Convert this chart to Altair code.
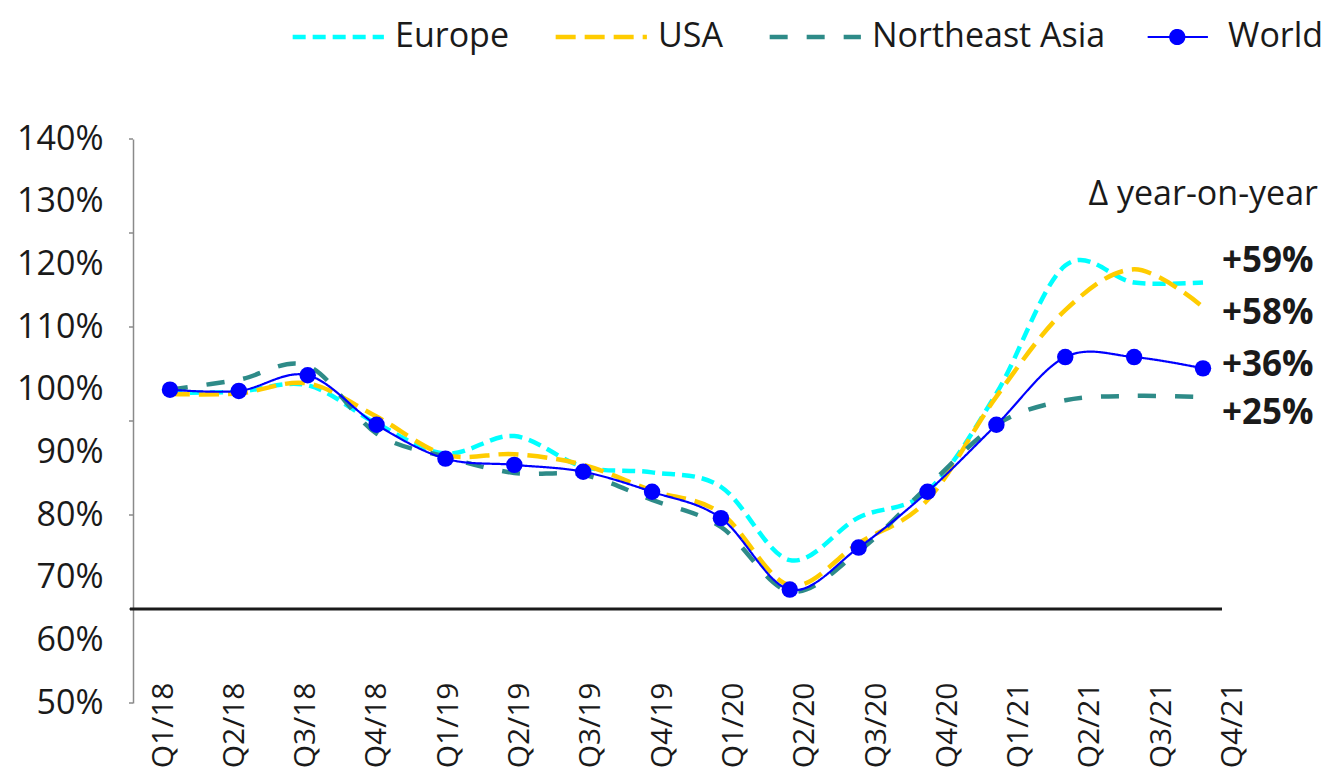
import altair as alt
import pandas as pd

quarters = ["Q1/18", "Q2/18", "Q3/18", "Q4/18", "Q1/19", "Q2/19", "Q3/19", "Q4/19",
            "Q1/20", "Q2/20", "Q3/20", "Q4/20", "Q1/21", "Q2/21", "Q3/21", "Q4/21"]
series_names = ["Europe", "USA", "Northeast Asia", "World"]

europe = [99.5, 99.7, 100.7, 94.6, 89.8, 92.6, 87.7, 86.8, 84.5, 72.8, 79.6, 83.8, 99.4, 119.8, 117.1, 117.1]
usa = [99.3, 99.4, 101.0, 95.7, 89.6, 89.7, 88.0, 83.9, 80.3, 68.8, 75.5, 82.4, 98.9, 112.7, 119.2, 113.2]
ne_asia = [100.0, 101.6, 103.8, 93.0, 89.3, 86.7, 86.4, 82.4, 78.1, 67.8, 74.2, 84.5, 94.4, 98.3, 99.0, 98.8]
world = [100.0, 99.8, 102.3, 94.4, 89.0, 88.0, 86.9, 83.7, 79.5, 68.1, 74.8, 83.7, 94.4, 105.2, 105.2, 103.4]

yoy_labels = {"Europe": "+59%", "USA": "+58%", "World": "+36%", "Northeast Asia": "+25%"}
yoy_title = "\u0394 year-on-year"
y_label_values = [0.5, 0.6, 0.7, 0.8, 0.9, 1.0, 1.1, 1.2, 1.3, 1.4]
y_tick_values = [0.5, 0.65, 0.8, 0.95, 1.1, 1.25, 1.4]
baseline_value = 0.65

colors = ["#00FFFF", "#FFCC00", "#2E8B88", "#0000FF"]
dashes = [[13, 7], [20, 9], [18, 19], [1, 0]]

FONT = "Open Sans"
TXT = "#1a1a1a"
W, H = 1089, 564

rows = []
for name, vals in zip(series_names, [europe, usa, ne_asia, world]):
    for i, (q, v) in enumerate(zip(quarters, vals)):
        rows.append({"idx": i, "quarter": q, "series": name, "value": v / 100})
df = pd.DataFrame(rows)

x_dom = [-0.537, 15.276]          # data positions of points
LAB_STEP = 71.3                   # category labels are spaced a bit wider than points
x_lab_dom = [-0.4208, 15.3]

def xs():
    return alt.Scale(domain=x_dom, nice=False, zero=False)

y_scale = alt.Scale(domain=[0.5, 1.4], nice=False, zero=False)
y_enc = alt.Y("value:Q", title=None, scale=y_scale,
              axis=alt.Axis(values=y_label_values, format=".0%", labelFontSize=34,
                            labelFont=FONT, labelColor=TXT, labelPadding=30,
                            domainColor="#8a8a8a", domainWidth=1.5, ticks=False,
                            grid=False, labelOverlap=False, labelFlush=False))
x_enc = alt.X("idx:Q", title=None, scale=xs(), axis=None)

# legend: long stroke symbols drawn with a custom path, World gets a shorter line and a dot
std_path = "M-1,0H4.95"
world_path = ("M-1,0H2.93M0.474,0A0.457,0.457 0 1,0 1.388,0"
              "A0.457,0.457 0 1,0 0.474,0Z")
legend_props = dict(
    orient="none", legendX=158, legendY=-119, direction="horizontal", title=None,
    symbolType=alt.ExprRef(expr=f"datum.value === 'World' ? '{world_path}' : '{std_path}'"),
    symbolFillColor=alt.ExprRef(expr="datum.value === 'World' ? '#0000FF' : 'transparent'"),
    symbolStrokeWidth=alt.ExprRef(expr="datum.value === 'World' ? 2.2 : 4.5"),
    labelOffset=alt.ExprRef(expr="datum.value === 'World' ? 48 : 70"),
    symbolSize=940, symbolOffset=0,
    labelFontSize=34, labelFont=FONT, labelColor=TXT, labelLimit=400,
    columnPadding=37, padding=0,
)

color_enc = alt.Color("series:N", scale=alt.Scale(domain=series_names, range=colors),
                      legend=alt.Legend(**legend_props))
dash_enc = alt.StrokeDash("series:N", scale=alt.Scale(domain=series_names, range=dashes),
                          legend=alt.Legend(**legend_props))

regional = alt.Chart(df).transform_filter(alt.datum.series != "World").mark_line(
    interpolate="cardinal", strokeWidth=4.5).encode(
    x=x_enc, y=y_enc, color=color_enc, strokeDash=dash_enc, order="idx:Q")

world_line = alt.Chart(df).transform_filter(alt.datum.series == "World").mark_line(
    interpolate="cardinal", strokeWidth=2.2).encode(
    x=x_enc, y=y_enc, color=color_enc, strokeDash=dash_enc, order="idx:Q")

points = alt.Chart(df).transform_filter(alt.datum.series == "World").mark_circle(
    size=270, opacity=1).encode(
    x=x_enc, y=y_enc,
    color=alt.Color("series:N", scale=alt.Scale(domain=series_names, range=colors), legend=None))

# category labels on their own axis
qdf = pd.DataFrame({"idx": list(range(len(quarters))), "quarter": quarters})
label_expr = "[" + ",".join(f"'{q}'" for q in quarters) + "][datum.value]"
xlabels = alt.Chart(qdf).mark_point(opacity=0, size=1).encode(
    x=alt.X("idx:Q", title=None,
            scale=alt.Scale(domain=x_lab_dom, nice=False, zero=False,
                            range=[0, (x_lab_dom[1] - x_lab_dom[0]) * LAB_STEP]),
            axis=alt.Axis(orient="bottom", values=list(range(len(quarters))),
                          labelExpr=label_expr, labelAngle=-90, labelPadding=-21,
                          labelFontSize=30, labelFont=FONT, labelColor=TXT,
                          domain=False, ticks=False, grid=False, labelOverlap=False,
                          labelFlush=False, labelBound=False)),
    y=alt.value(H))

tick_df = pd.DataFrame({"t": y_tick_values})
ticks = alt.Chart(tick_df).mark_rule(color="#8a8a8a", strokeWidth=1.5).encode(
    y=alt.Y("t:Q", scale=y_scale, title=None),
    x=alt.value(-4), x2=alt.value(0))

base_rule = alt.Chart(pd.DataFrame({"b": [baseline_value]})).mark_rule(
    color=TXT, strokeWidth=3).encode(
    y=alt.Y("b:Q", scale=y_scale, title=None),
    x=alt.value(-3), x2=alt.value(W))

last_df = pd.DataFrame({
    "series": series_names,
    "idx": [len(quarters) - 1] * 4,
    "value": [s[-1] / 100 for s in [europe, usa, ne_asia, world]],
    "label": [yoy_labels[n] for n in series_names],
})
label_dy = {"Europe": -22, "USA": 6, "World": -3, "Northeast Asia": 16}
ann_layers = []
for name in series_names:
    ann_layers.append(
        alt.Chart(last_df).transform_filter(alt.datum.series == name).mark_text(
            align="left", baseline="middle", dx=19, dy=label_dy[name], fontSize=35,
            fontWeight="bold", font=FONT, color=TXT).encode(
            x=alt.X("idx:Q", scale=xs(), axis=None),
            y=alt.Y("value:Q", scale=y_scale),
            text="label:N"))

title_txt = alt.Chart(pd.DataFrame({"t": [yoy_title]})).mark_text(
    align="right", baseline="middle", fontSize=34, font=FONT, color=TXT).encode(
    x=alt.value(1185), y=alt.value(56), text="t:N")

chart = alt.layer(xlabels, ticks, base_rule, regional, world_line, points,
                  *ann_layers, title_txt).resolve_scale(x="independent").properties(
    width=W, height=H,
    autosize=alt.AutoSizeParams(type="none"),
    padding={"left": 125, "top": 131, "right": 104, "bottom": 70},
).configure(font=FONT, background="white").configure_view(stroke=None)

chart.save("out.html", embed_options={"renderer": "svg", "actions": False})
